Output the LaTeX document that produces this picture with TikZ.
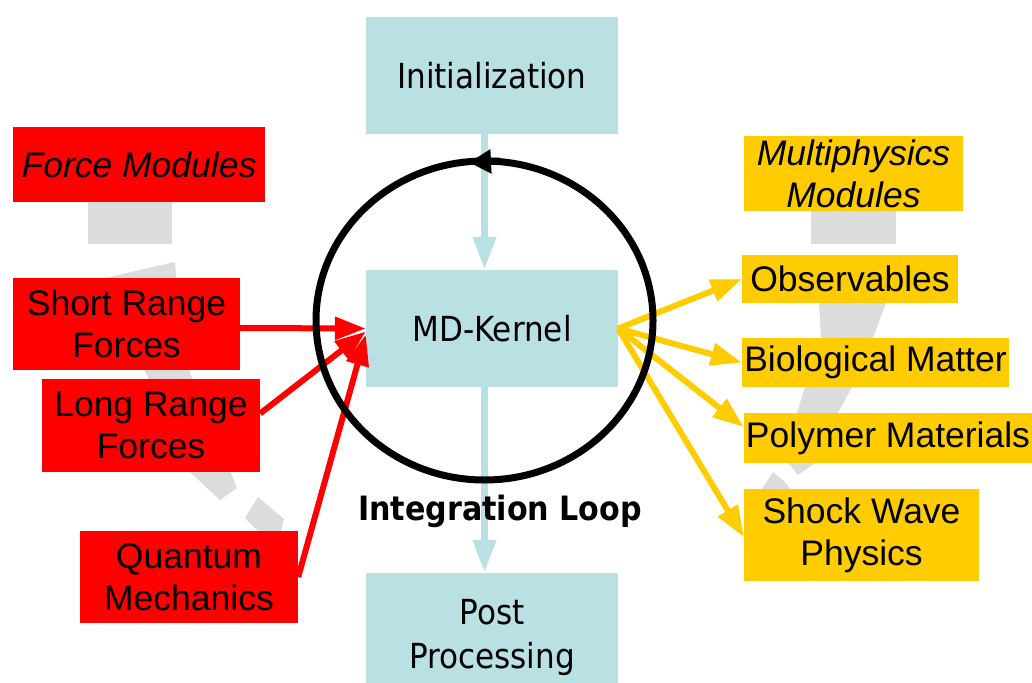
\documentclass[tikz,border=0pt]{standalone}
\usepackage{fontspec}
\setmainfont{Liberation Sans}
\newfontfamily\tahoma{DejaVu Sans Condensed}
\usetikzlibrary{arrows.meta}
\definecolor{lblue}{RGB}{185,224,227}
\definecolor{myred}{RGB}{255,0,0}
\definecolor{myyel}{RGB}{255,204,0}
\definecolor{mygray}{RGB}{220,220,220}
\tikzset{
  bluebox/.style={fill=lblue, inner sep=0pt, align=center, font=\tahoma\fontsize{34.5}{44}\selectfont},
  redbox/.style={fill=myred, inner sep=0pt, align=center, font=\fontsize{35.5}{42}\selectfont},
  yelbox/.style={fill=myyel, inner sep=0pt, align=center, font=\fontsize{35.5}{42}\selectfont},
  barrow/.style={draw=lblue, line width=7.5pt, -{Triangle[length=33pt,width=22pt]}},
  rarrow/.style={draw=myred, line width=6pt, -{Triangle[length=31pt,width=22pt]}},
  yarrow/.style={draw=myyel, line width=6pt, -{Triangle[length=31pt,width=22pt]}},
  deco/.style={fill=mygray},
  looplabel/.style={inner sep=0pt, font=\tahoma\bfseries\fontsize{33.5}{40}\selectfont}
}
\begin{document}
\begin{tikzpicture}[x=1pt, y=-1pt]
\useasboundingbox (0,0) rectangle (1032,682);
\clip (0,0) rectangle (1032,682);
% gray decorative dashed bands
\fill[deco] (88,202) rectangle (172,244);
\fill[deco] (105,278) -- (175,262) -- (178,300) -- (189,370) -- (237,488) -- (220,500) -- (190,472) -- (148,378) -- cycle;
\fill[deco] (258,497) -- (284,519) -- (280,535) -- (262,535) -- (245,518) -- cycle;
\fill[deco] (811,211) rectangle (896,244);
\fill[deco] (818,262) -- (890,262) -- (886,303) -- (873,338) -- (852,387) -- (838,413) -- (815,463) -- (798,475) -- (786,460) -- (797,413) -- (805,387) -- (821,338) -- (819,303) -- cycle;
\fill[deco] (773,472) -- (785,482) -- (790,489) -- (762,489) -- cycle;
% central boxes
\coordinate (lc) at (484.5,320.5);
\node[bluebox, minimum width=252pt, minimum height=117pt] (init) at (492,75.5) {Initialization};
\node[bluebox, minimum width=252pt, minimum height=117pt] (md) at (492,328.5) {MD-Kernel};
\node[bluebox, minimum width=252pt, minimum height=130pt] (post) at (492,638) {Post\\Processing};
% force modules
\node[redbox, minimum width=252pt, minimum height=75pt] (force) at (139,164.5) {\itshape Force Modules};
\node[redbox, minimum width=227pt, minimum height=92pt] (short) at (126.5,324) {Short Range\\Forces};
\node[redbox, minimum width=218pt, minimum height=93pt] (long) at (151,425.5) {Long Range\\Forces};
\node[redbox, minimum width=218pt, minimum height=92pt] (quant) at (189,577) {Quantum\\Mechanics};
% multiphysics modules
\node[yelbox, minimum width=219pt, minimum height=75pt] (multi) at (853.5,173.5) {\itshape Multiphysics\\\itshape Modules};
\node[yelbox, minimum width=216pt, minimum height=48pt] (obs) at (850,279) {Observables};
\node[yelbox, minimum width=267pt, minimum height=49pt] (bio) at (875.5,362.5) {Biological Matter};
\node[yelbox, minimum width=288pt, minimum height=50pt] (poly) at (888,438) {Polymer Materials};
\node[yelbox, minimum width=235pt, minimum height=92pt] (shock) at (861.5,535) {Shock Wave\\Physics};
% flow arrows
\draw[barrow] (init.south -| lc) -- (md.north -| lc);
\draw[barrow] (md.south -| lc) -- (post.north -| lc);
\draw[rarrow] ([yshift=-4pt]short.east) -- (md.west);
\draw[rarrow] ([yshift=12pt]long.east) -- ([yshift=-3pt]md.west);
\draw[rarrow] (quant.east) -- ([yshift=-6pt]md.west);
\draw[yarrow] (md.east) -- (obs.west);
\draw[yarrow] (md.east) -- (bio.west);
\draw[yarrow] (md.east) -- ([yshift=11pt]poly.west);
\draw[yarrow] (md.east) -- ([yshift=-2pt]shock.west);
% integration loop
\draw[line width=7pt] (lc) ellipse [x radius=168.5, y radius=159.5];
\coordinate (la) at (500,161);
\coordinate (lb) at (469,162.5);
\draw[line width=7pt, -{Triangle[length=22pt,width=23pt]}] (la) -- (lb);
\node[looplabel] (looptext) at (500,511) {Integration Loop};
\end{tikzpicture}
\end{document}
